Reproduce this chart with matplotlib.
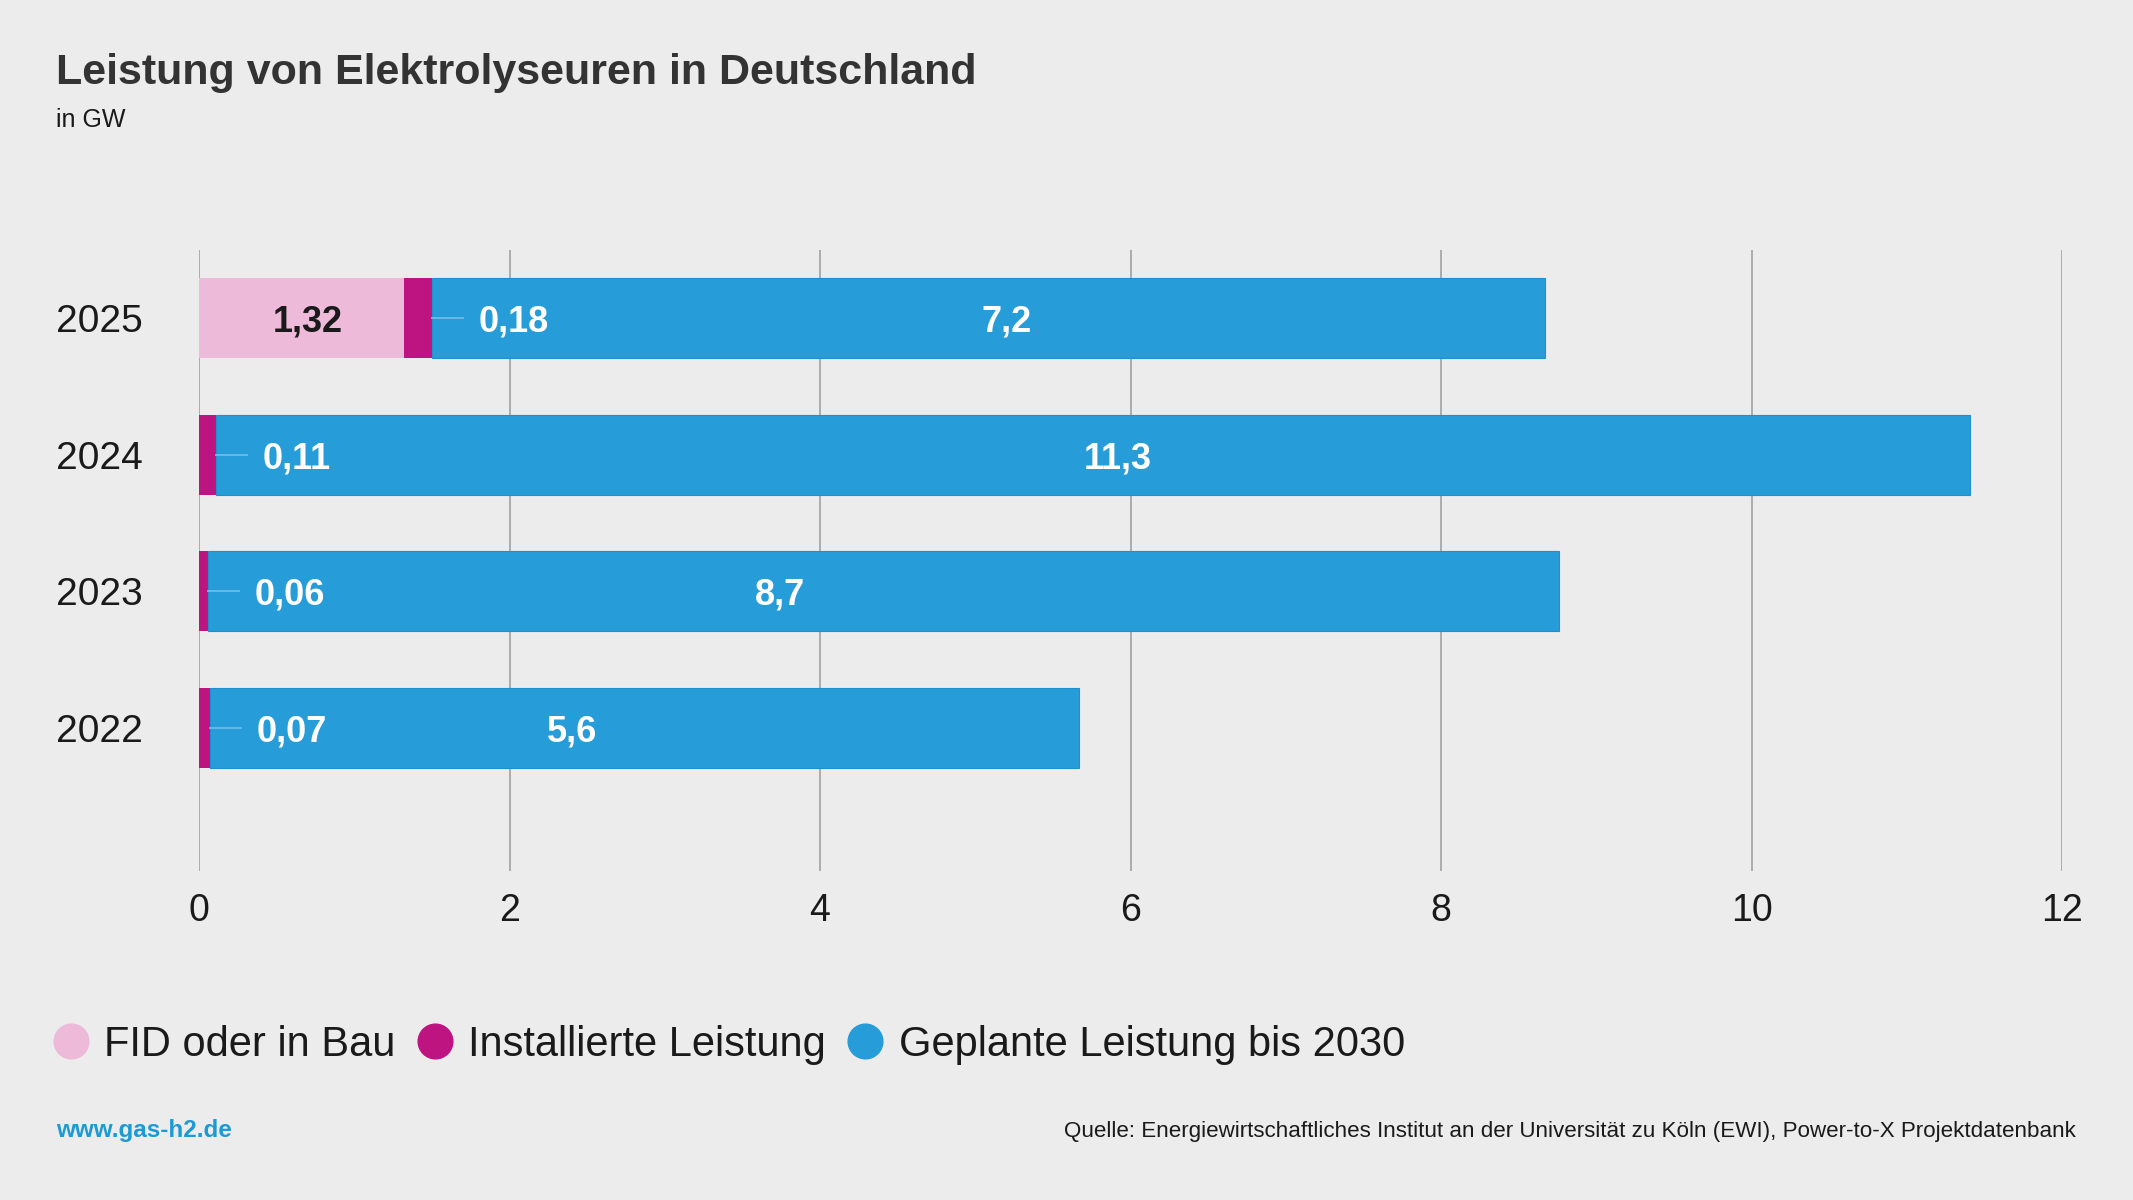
import matplotlib
matplotlib.use('Agg')
import matplotlib.pyplot as plt
from matplotlib.lines import Line2D
from matplotlib.transforms import blended_transform_factory

plt.rcParams['font.family'] = ['Liberation Sans', 'DejaVu Sans']

# data (GW)
jahre = ['2022', '2023', '2024', '2025']
fid_bau = [0.0, 0.0, 0.0, 1.32]
installiert = [0.07, 0.06, 0.11, 0.18]
geplant = [5.6, 8.7, 11.3, 7.17]
fid_labels = ['', '', '', '1,32']
inst_labels = ['0,07', '0,06', '0,11', '0,18']
geplant_labels = ['5,6', '8,7', '11,3', '7,2']
# where the planned values are written along the bar (GW)
geplant_label_x = [2.40, 3.74, 5.92, 5.20]

c_bg = '#ececec'
c_fid = '#edbad9'
c_inst = '#be1482'
c_plan = '#269cd8'
c_grid = '#9b9b9b'

fig = plt.figure(figsize=(21.33, 12), dpi=100, facecolor=c_bg)
ax = fig.add_axes([199/2133, 1-871/1200, (2062-199)/2133, 621/1200])
ax.set_facecolor(c_bg)

y = list(range(len(jahre)))
h = 0.585
dy = 0.028  # nudge text down so it sits optically centred in the bar
left_inst = fid_bau
left_plan = [a + b for a, b in zip(fid_bau, installiert)]

ax.barh(y, fid_bau, height=h, color=c_fid, zorder=3)
ax.barh(y, installiert, left=left_inst, height=h, color=c_inst, zorder=3)
ax.barh(y, geplant, left=left_plan, height=h, color=c_plan,
        edgecolor='#1f90cf', linewidth=0.8, zorder=3)

for i in y:
    if fid_labels[i]:
        ax.text(fid_bau[i] / 2 + 0.04, i - dy, fid_labels[i], ha='center', va='center',
                fontsize=26, fontweight='bold', color='#1a1a1a', zorder=5)
    end = left_plan[i]
    ax.plot([end, end + 0.2], [i, i], color='#6cbde8', lw=1.3, zorder=4)
    ax.text(end + 0.3, i - dy, inst_labels[i], ha='left', va='center',
            fontsize=26, fontweight='bold', color='white', zorder=5)
    ax.text(geplant_label_x[i], i - dy, geplant_labels[i], ha='center', va='center',
            fontsize=26, fontweight='bold', color='white', zorder=5)

ax.set_xlim(0, 12)
ax.set_ylim(-1.05, 3.5)
ax.set_xticks(range(0, 13, 2))
ax.set_xticklabels([str(v) for v in range(0, 13, 2)])
ax.set_yticks([])
ax.grid(axis='x', color=c_grid, lw=1.1, zorder=0)
ax.tick_params(axis='x', length=0, pad=16, labelsize=27, labelcolor='#1a1a1a')
for s in ax.spines.values():
    s.set_visible(False)

tr = blended_transform_factory(fig.transFigure, ax.transData)
for i, j in enumerate(jahre):
    ax.text(56/2133, i - dy, j, transform=tr, ha='left', va='center',
            fontsize=28, color='#1a1a1a')

# title
fig.text(56/2133, 1-84/1200, 'Leistung von Elektrolyseuren in Deutschland',
         fontsize=31, fontweight='bold', color='#333333', ha='left', va='baseline')
fig.text(56/2133, 1-127/1200, 'in GW', fontsize=18, color='#1a1a1a',
         ha='left', va='baseline')

# legend
handles = [Line2D([], [], marker='o', ls='', markersize=25, color=c)
           for c in [c_fid, c_inst, c_plan]]
fig.legend(handles, ['FID oder in Bau', 'Installierte Leistung', 'Geplante Leistung bis 2030'],
           loc='center left', bbox_to_anchor=(58/2133, 1-1045/1200), ncol=3,
           frameon=False, fontsize=30, handlelength=0.6, handletextpad=0.5,
           columnspacing=0.65, borderpad=0, borderaxespad=0, labelcolor='#1a1a1a')

# footer
fig.text(56/2133, 1-1131/1200, 'www.gas-h2.de', fontsize=17.5, fontweight='bold',
         color='#1b9ad6', ha='left', va='center')
fig.text(2076/2133, 1-1131/1200,
         'Quelle: Energiewirtschaftliches Institut an der Universität zu Köln (EWI), Power-to-X Projektdatenbank',
         fontsize=16.1, color='#1a1a1a', ha='right', va='center')

fig.savefig('out.png', dpi=100, facecolor=c_bg)
